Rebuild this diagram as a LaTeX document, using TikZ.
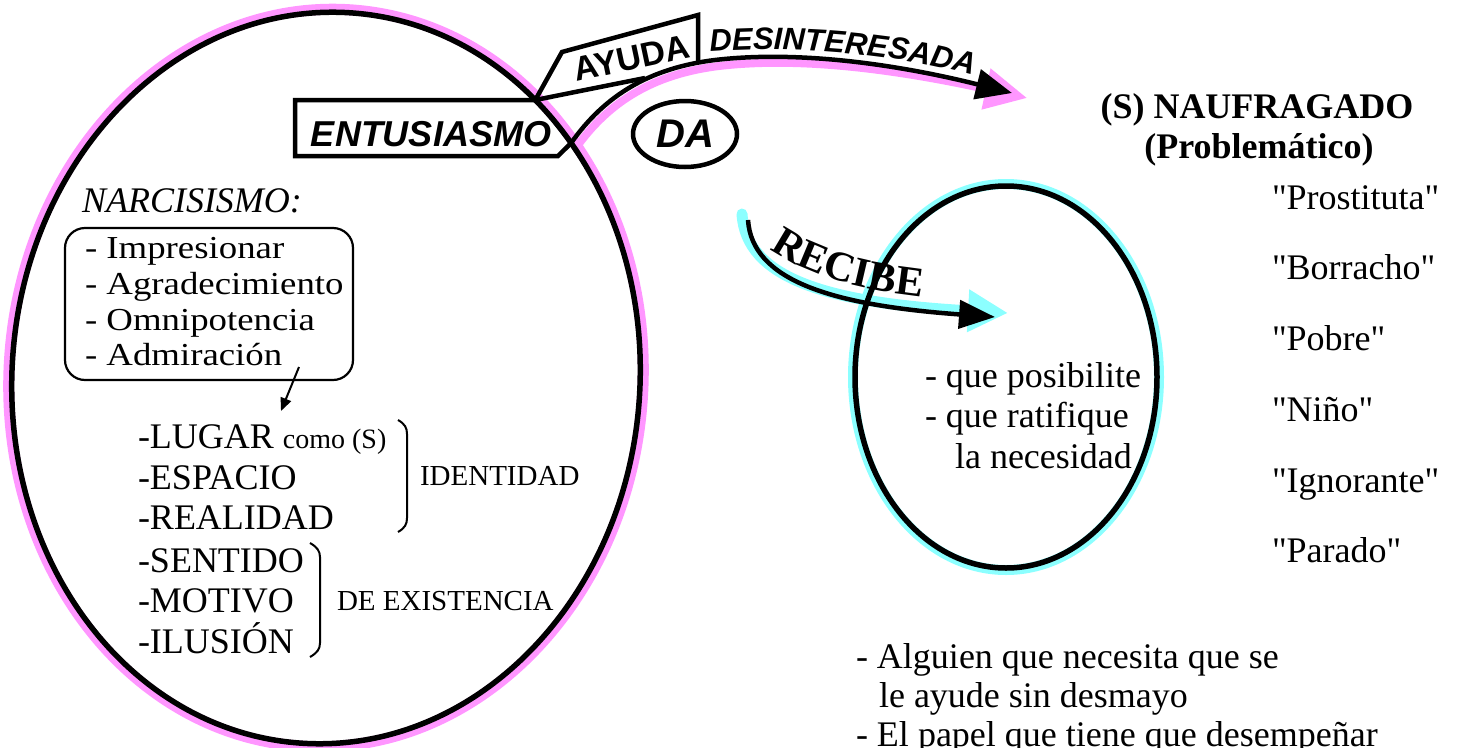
\documentclass[tikz,border=0pt]{standalone}
\usepackage{fontspec}
\setmainfont{Liberation Serif}
\setsansfont{Liberation Sans}
\newfontfamily\widefont{Liberation Serif}[FakeStretch=1.15]
\newfontfamily\plainserif{Liberation Serif}
\usetikzlibrary{arrows.meta,intersections,decorations.text,calc,shapes.geometric}
\definecolor{halopink}{RGB}{255,150,255}
\definecolor{halocyan}{RGB}{140,255,255}
\begin{document}
\begin{tikzpicture}[x=1pt,y=-1pt,
  every node/.style={inner sep=0pt, outer sep=0pt},
  txt/.style={anchor=base west, font=\fontsize{36}{36}\selectfont},
  qtxt/.style={anchor=base west, font=\plainserif\fontsize{36}{36}\selectfont},
  hdr/.style={anchor=base, font=\fontsize{36}{36}\selectfont\bfseries},
  boxtxt/.style={anchor=base west, font=\widefont\fontsize{32}{32}\selectfont},
  midtxt/.style={anchor=base west, font=\fontsize{29}{29}\selectfont},
  heavy/.style={line width=4.5pt},
  ringline/.style={line width=5.5pt},
  framed/.style={line width=4.5pt, line join=miter},
  bracketline/.style={line width=2pt},
  sansbi/.style={font=\sffamily\bfseries\itshape\fontsize{36}{36}\selectfont}
]
\useasboundingbox (0,0) rectangle (1459,747);

% ---- halos ----
\coordinate (bc) at (326,378);
\coordinate (cc) at (1006,377);
\draw[halopink, line width=11pt, rotate around={-4:(bc)}] (bc) ellipse [x radius=317pt, y radius=369pt];
\draw[halocyan, line width=10pt] (cc) ellipse [x radius=153pt, y radius=193pt];

\path[name path=bigell, rotate around={-4:(bc)}] (bc) ellipse [x radius=314pt, y radius=366pt];
\path[name path=h1] (450,100) -- (700,100);
\path[name path=h2] (450,143) -- (700,143);
\path[name intersections={of=bigell and h1, by={E1}}];
\path[name intersections={of=bigell and h2, by={E2}}];

\draw[halopink, line width=8pt, -{Triangle[length=42pt,width=40pt]}]
  ($(E2)+(4,6)$) .. controls (609,101) and (654,74) .. (719,66)
  .. controls (804,56) and (904,71) .. (1027,98);
\draw[halocyan, line width=11pt, line cap=round, -{Triangle[length=40pt,width=40pt]}]
  (742,214) .. controls (746,278) and (826,303) .. (1008,313);

% ---- black outlines ----
\draw[ringline, rotate around={-4:(bc)}] (bc) ellipse [x radius=314pt, y radius=366pt];
\draw[ringline] (cc) ellipse [x radius=151pt, y radius=191pt];

\draw[heavy, -{Triangle[length=36pt,width=30pt]}]
  (E2) .. controls (605,95) and (650,68) .. (715,60)
  .. controls (800,50) and (900,65) .. (1012,93);
\draw[heavy, -{Triangle[length=36pt,width=28pt]}]
  (748,220) .. controls (752,280) and (830,305) .. (995,317);

% ENTUSIASMO flag
\draw[framed] (E1) -- (295,100) -- (295,156) -- (558,156) -- (E2);
% AYUDA flag
\draw[framed] (E1) -- (562,52) -- (698,15) -- (698,62);
\coordinate (ay) at (645,78);
\draw[framed] (E1) -- (ay);

\node[sansbi] (ent) at (431,134) {ENTUSIASMO};
\node[font=\sffamily\bfseries\fontsize{34}{34}\selectfont, rotate=12] (ayuda) at (632,58) {AYUDA};
\node[draw, ellipse, line width=4.5pt, minimum width=104pt, minimum height=66pt,
      font=\sffamily\bfseries\itshape\fontsize{40}{40}\selectfont] (da) at (685,134) {DA};

\path[decorate, decoration={text along path, text align=left,
   text={|\sffamily\bfseries\itshape\fontsize{31}{31}\selectfont|DESINTERESADA}}]
  (710,52) .. controls (800,45) and (900,55) .. (975,76);
\path[decorate, decoration={text along path, text align=left,
   text={|\bfseries\fontsize{42}{42}\selectfont|RECIBE}}]
  (770,249) .. controls (800,271) and (850,290) .. (935,298);

% ---- left side ----
\node[txt, font=\itshape\fontsize{36}{36}\selectfont] (narc) at (82,212) {NARCISISMO:};
\node[draw, rounded corners=20pt, line width=2.2pt, minimum width=288pt, minimum height=152pt] (nbox) at (209,304) {};
\node[boxtxt] (n1) at (85,258) {- Impresionar};
\node[boxtxt] (n2) at (85,294) {- Agradecimiento};
\node[boxtxt] (n3) at (85,330) {- Omnipotencia};
\node[boxtxt] (n4) at (85,365) {- Admiración};
\coordinate (a1) at (299,367);
\coordinate (a2) at (281,411);
\draw[line width=2pt, -{Triangle[length=13pt,width=11pt]}] (a1) -- (a2);

\node[txt] (l1) at (138,448) {-LUGAR {\fontsize{28}{28}\selectfont como (S)}};
\node[txt] (l2) at (138,489) {-ESPACIO};
\node[txt] (l3) at (138,529) {-REALIDAD};
\node[txt] (l4) at (138,572) {-SENTIDO};
\node[txt] (l5) at (138,612) {-MOTIVO};
\node[txt] (l6) at (138,653) {-ILUSIÓN};

\draw[bracketline] (398,420) .. controls (405,424) and (407,428) .. (407,434) -- (407,518)
  .. controls (407,524) and (405,528) .. (398,532);
\draw[bracketline] (310,543) .. controls (317,547) and (320,551) .. (320,557) -- (320,643)
  .. controls (320,649) and (317,653) .. (310,657);
\node[midtxt] (ident) at (420,485) {IDENTIDAD};
\node[midtxt] (exist) at (337,610) {DE EXISTENCIA};

% ---- right side ----
\node[hdr] (h1) at (1257,118) {(S) NAUFRAGADO};
\node[hdr] (h2) at (1259,158) {(Problemático)};
\node[qtxt] (r1) at (1272,209) {"Prostituta"};
\node[qtxt] (r2) at (1272,279) {"Borracho"};
\node[qtxt] (r3) at (1272,350) {"Pobre"};
\node[qtxt] (r4) at (1272,421) {"Niño"};
\node[qtxt] (r5) at (1272,492) {"Ignorante"};
\node[qtxt] (r6) at (1272,562) {"Parado"};

\node[txt] (c1) at (925,387) {- que posibilite};
\node[txt] (c2) at (925,427) {- que ratifique};
\node[txt] (c3) at (955,468) {la necesidad};

\node[txt] (b1) at (856,668) {- Alguien que necesita que se};
\node[txt] (b2) at (879,707) {le ayude sin desmayo};
\node[txt] (b3) at (856,746) {- El papel que tiene que desempeñar};
\end{tikzpicture}
\end{document}
